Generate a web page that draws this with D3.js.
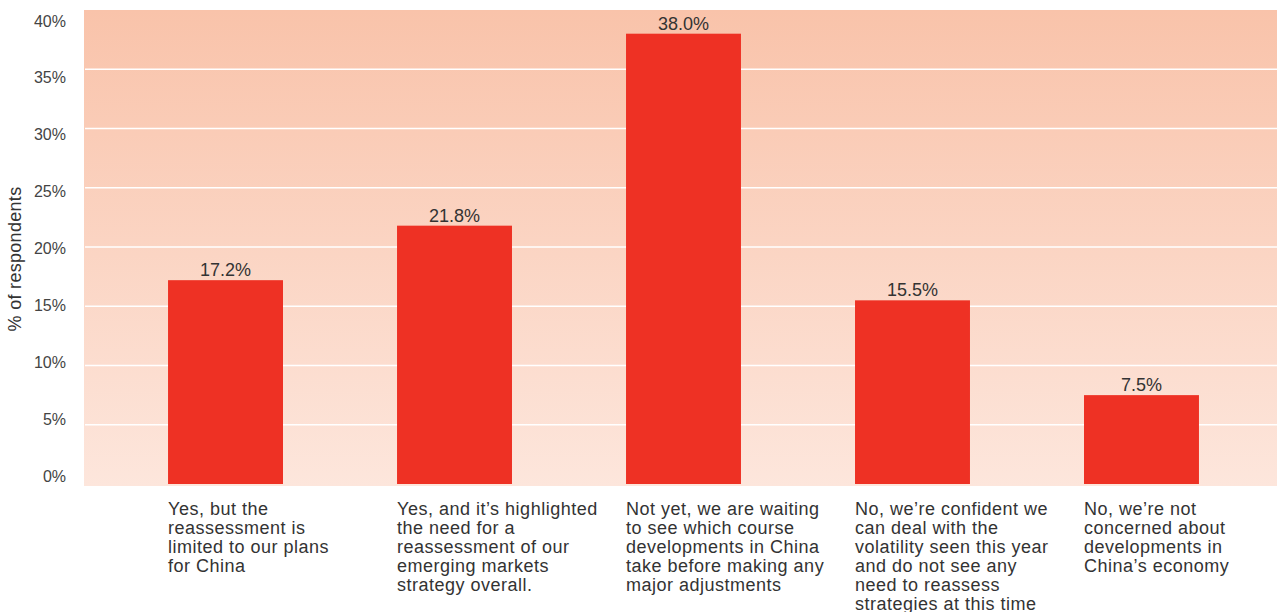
<!DOCTYPE html>
<html><head><meta charset="utf-8">
<script src="https://cdn.jsdelivr.net/npm/d3@7"></script>
<style>body{margin:0;background:#fff;}svg{display:block;font-family:"Liberation Sans",Arial,Helvetica,sans-serif;}</style>
</head><body><svg id="c" width="1277" height="612"></svg>
<script>
const categories = [
  ["Yes, but the","reassessment is","limited to our plans","for China"],
  ["Yes, and it\u2019s highlighted","the need for a","reassessment of our","emerging markets","strategy overall."],
  ["Not yet, we are waiting","to see which course","developments in China","take before making any","major adjustments"],
  ["No, we\u2019re confident we","can deal with the","volatility seen this year","and do not see any","need to reassess","strategies at this time"],
  ["No, we\u2019re not","concerned about","developments in","China\u2019s economy"]
];
const values = [17.2, 21.8, 38.0, 15.5, 7.5];
const valueLabels = ["17.2%","21.8%","38.0%","15.5%","7.5%"];
const yTicks = [0,5,10,15,20,25,30,35,40];
const yTickLabels = ["0%","5%","10%","15%","20%","25%","30%","35%","40%"];

const svg = d3.select("#c");
const pLeft = 84, pRight = 1277, pTop = 10, pBottom = 484;
const ids = d3.range(values.length);
const x = d3.scaleBand().domain(ids).range([pLeft, 1283]).paddingInner(0.498).paddingOuter(0.367);
const y = d3.scaleLinear().domain([0,40]).range([pBottom, pTop]);
const yLab = d3.scaleLinear().domain([0,40]).range([476, 21]);

const defs = svg.append("defs");
const g = defs.append("linearGradient").attr("id","bg").attr("x1",0).attr("y1",0).attr("x2",0).attr("y2",1);
g.append("stop").attr("offset","0%").attr("stop-color","#F9C3AA");
g.append("stop").attr("offset","100%").attr("stop-color","#FDE6DC");

svg.append("rect").attr("x",pLeft).attr("y",pTop).attr("width",pRight-pLeft).attr("height",pBottom+2-pTop).attr("fill","url(#bg)");

svg.append("g").selectAll("line").data(yTicks.filter(t=>t>0&&t<40)).join("line")
  .attr("x1",pLeft+1).attr("x2",pRight).attr("y1",d=>y(d)).attr("y2",d=>y(d))
  .attr("stroke","#fff").attr("stroke-width",1.6);

svg.append("g").selectAll("text").data(yTicks).join("text")
  .attr("x",66).attr("y",(d)=>yLab(d)).attr("dy","0.35em").attr("text-anchor","end")
  .attr("font-size",16).attr("fill","#444").text((d,i)=>yTickLabels[i]);

svg.append("text").attr("transform","translate(21,259) rotate(-90)").attr("text-anchor","middle")
  .attr("font-size",18).attr("letter-spacing",0.3).attr("fill","#333").text("% of respondents");

svg.append("g").selectAll("rect").data(ids).join("rect")
  .attr("x",i=>x(i)).attr("width",x.bandwidth()).attr("y",i=>y(values[i])).attr("height",i=>pBottom-y(values[i]))
  .attr("fill","#EE3124");

svg.append("g").selectAll("text").data(ids).join("text")
  .attr("x",i=>x(i)+x.bandwidth()/2).attr("y",i=>y(values[i])-4).attr("text-anchor","middle")
  .attr("font-size",18).attr("fill","#333").text(i=>valueLabels[i]);

const cl = svg.append("g").selectAll("text").data(ids).join("text")
  .attr("x",i=>x(i)).attr("y",515).attr("font-size",18).attr("letter-spacing",0.5).attr("fill","#333");
cl.selectAll("tspan").data(i=>categories[i].map(s=>({s,i}))).join("tspan")
  .attr("x",d=>x(d.i)).attr("dy",(d,j)=>j===0?0:19).text(d=>d.s);
</script></body></html>
